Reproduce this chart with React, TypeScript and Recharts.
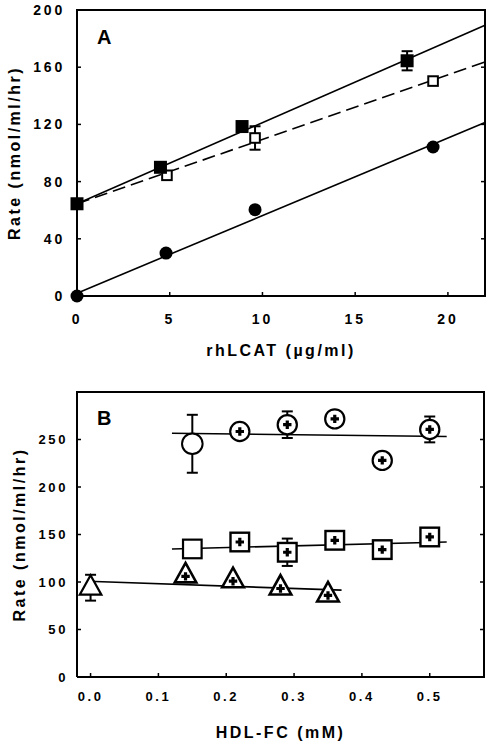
import React from 'react';
import { ComposedChart, XAxis, YAxis, Scatter, Line, ErrorBar } from 'recharts';

const FONT = '"Liberation Sans", Arial, Helvetica, sans-serif';

// ---------- Panel A data ----------
const aXDomain = [0, 22];
const aYDomain = [0, 200];
const aXTicks = [0, 5, 10, 15, 20];
const aYTicks = [0, 40, 80, 120, 160, 200];
const aFilledSquares = [
  { x: 0, y: 64.5 },
  { x: 4.5, y: 90 },
  { x: 8.9, y: 118.5 },
  { x: 17.8, y: 164.5, e: 6.7 },
];
const aOpenSquares = [
  { x: 0, y: 64.5 },
  { x: 4.85, y: 84.4 },
  { x: 9.6, y: 110.5, e: 8.2 },
  { x: 19.2, y: 150.3 },
];
const aFilledCircles = [
  { x: 0, y: 0 },
  { x: 4.8, y: 30 },
  { x: 9.6, y: 60.4 },
  { x: 19.2, y: 104.2 },
];
const aFitFilledSquares = [
  { x: 0, y: 64.5 },
  { x: 22, y: 189.3 },
];
const aFitOpenSquares = [
  { x: 0, y: 64.5 },
  { x: 22, y: 163.6 },
];
const aFitCircles = [
  { x: 0, y: 2 },
  { x: 22, y: 121.3 },
];

// ---------- Panel B data ----------
const bXDomain = [-0.02, 0.58];
const bYDomain = [0, 300];
const bXTicks = [0, 0.1, 0.2, 0.3, 0.4, 0.5];
const bYTicks = [0, 50, 100, 150, 200, 250];
const bCircleOpen = [{ x: 0.15, y: 245.5, e: 30.5 }];
const bCirclePlus = [
  { x: 0.22, y: 258.4 },
  { x: 0.29, y: 265.6, e: 14 },
  { x: 0.36, y: 271.7 },
  { x: 0.43, y: 228 },
  { x: 0.5, y: 260.6, e: 13.6 },
];
const bSquareOpen = [{ x: 0.15, y: 134.8 }];
const bSquarePlus = [
  { x: 0.22, y: 142.1 },
  { x: 0.29, y: 131.3, e: 14.4 },
  { x: 0.36, y: 143.9 },
  { x: 0.43, y: 134.1 },
  { x: 0.5, y: 147.4 },
];
const bTriangleOpen = [{ x: 0, y: 94, e: 13.6 }];
const bTrianglePlus = [
  { x: 0.14, y: 107 },
  { x: 0.21, y: 101.9 },
  { x: 0.28, y: 94.2 },
  { x: 0.35, y: 86.9 },
];
const bFitCircles = [
  { x: 0.12, y: 256.6 },
  { x: 0.525, y: 253.2 },
];
const bFitSquares = [
  { x: 0.12, y: 134.8 },
  { x: 0.525, y: 142.1 },
];
const bFitTriangles = [
  { x: -0.004, y: 100.8 },
  { x: 0.37, y: 91.4 },
];

// ---------- layout ----------
const W = 492;
const A_LAYOUT = { h: 380, top: 10, right: 7, yAxisW: 77, xAxisH: 84 };
const B_LAYOUT = { h: 369, top: 12, right: 8, yAxisW: 77, xAxisH: 72 };

// ---------- shapes ----------
const plusPath = (cx: number, cy: number) =>
  `M${cx - 1.6},${cy - 4.2}h3.2v2.6h2.6v3.2h-2.6v2.6h-3.2v-2.6h-2.6v-3.2h2.6z`;

const FilledSquare = (p: any) => (
  <rect x={p.cx - 6.5} y={p.cy - 6.5} width={13} height={13} fill="#000" />
);
const OpenSquareA = (p: any) => (
  <rect x={p.cx - 4.8} y={p.cy - 4.8} width={9.6} height={9.6} fill="#fff" stroke="#000" strokeWidth={2} />
);
const FilledCircle = (p: any) => <circle cx={p.cx} cy={p.cy} r={6.5} fill="#000" />;

const CircleOpenB = (p: any) => (
  <circle cx={p.cx} cy={p.cy} r={10.3} fill="#fff" stroke="#000" strokeWidth={2} />
);
const CirclePlusB = (p: any) => (
  <g>
    <circle cx={p.cx} cy={p.cy} r={9.6} fill="#fff" stroke="#000" strokeWidth={2.2} />
    <path d={plusPath(p.cx, p.cy)} fill="#000" />
  </g>
);
const SquareOpenB = (p: any) => (
  <rect x={p.cx - 9.3} y={p.cy - 9.3} width={18.6} height={18.6} fill="#fff" stroke="#000" strokeWidth={2.2} />
);
const SquarePlusB = (p: any) => (
  <g>
    <rect x={p.cx - 9.3} y={p.cy - 9.3} width={18.6} height={18.6} fill="#fff" stroke="#000" strokeWidth={2.4} />
    <path d={plusPath(p.cx, p.cy)} fill="#000" />
  </g>
);
const triPts = (cx: number, cy: number) =>
  `${cx},${cy - 12.5} ${cx + 10.8},${cy + 7} ${cx - 10.8},${cy + 7}`;
const TriangleOpenB = (p: any) => (
  <polygon points={triPts(p.cx, p.cy)} fill="#fff" stroke="#000" strokeWidth={2.2} strokeLinejoin="miter" />
);
const TrianglePlusB = (p: any) => (
  <g>
    <polygon points={triPts(p.cx, p.cy)} fill="#fff" stroke="#000" strokeWidth={2.6} strokeLinejoin="miter" />
    <path d={plusPath(p.cx, p.cy + 1)} fill="#000" />
  </g>
);

const tickA = { fill: '#000', fontSize: 14, fontWeight: 'bold', fontFamily: FONT, letterSpacing: 2.8 };
const tickB = { fill: '#000', fontSize: 13, fontWeight: 'bold', fontFamily: FONT, letterSpacing: 2.6 };
const labelStyle = {
  fill: '#000',
  fontSize: 16,
  fontWeight: 'bold',
  fontFamily: FONT,
  letterSpacing: 2.5,
  textAnchor: 'middle' as const,
};
const axisLine = { stroke: '#000', strokeWidth: 2 };
const tickLine = { stroke: '#000', strokeWidth: 1.5 };

// Top and right edges of the plot box, with inward ticks on the right edge
function FrameOverlay({ layout, yDomain, yTicks }: any) {
  const left = layout.yAxisW;
  const right = W - layout.right;
  const top = layout.top;
  const bottom = layout.h - layout.xAxisH;
  const yOf = (v: number) => top + (bottom - top) * (1 - (v - yDomain[0]) / (yDomain[1] - yDomain[0]));
  return (
    <svg
      width={W}
      height={layout.h}
      style={{ position: 'absolute', left: 0, top: 0, pointerEvents: 'none', overflow: 'visible' }}
    >
      <polyline
        points={`${left - 1},${top} ${right},${top} ${right},${bottom + 1}`}
        fill="none"
        stroke="#000"
        strokeWidth={2}
        strokeLinejoin="miter"
      />
      {yTicks.map((v: number) => (
        <line key={v} x1={right - 4} y1={yOf(v)} x2={right} y2={yOf(v)} stroke="#000" strokeWidth={1.5} />
      ))}
    </svg>
  );
}

function PanelA() {
  const L = A_LAYOUT;
  return (
    <div style={{ position: 'relative', width: W, height: L.h }}>
      <ComposedChart width={W} height={L.h} margin={{ top: L.top, right: L.right, bottom: 0, left: 0 }}>
        <XAxis
          dataKey="x"
          type="number"
          domain={aXDomain}
          ticks={aXTicks}
          height={L.xAxisH}
          axisLine={axisLine}
          tickLine={tickLine}
          tickSize={-4}
          tickMargin={22}
          tick={tickA}
          label={{ value: 'rhLCAT (µg/ml)', position: 'insideBottom', offset: 24, style: labelStyle }}
        />
        <YAxis
          type="number"
          domain={aYDomain}
          ticks={aYTicks}
          width={L.yAxisW}
          axisLine={axisLine}
          tickLine={tickLine}
          tickSize={-4}
          tickMargin={16}
          tick={tickA}
          label={{ value: 'Rate (nmol/ml/hr)', angle: -90, position: 'insideLeft', offset: 14, style: labelStyle }}
        />
        <Line data={aFitFilledSquares} dataKey="y" stroke="#000" strokeWidth={1.6} dot={false} activeDot={false} isAnimationActive={false} />
        <Line data={aFitOpenSquares} dataKey="y" stroke="#000" strokeWidth={1.6} strokeDasharray="13 6" dot={false} activeDot={false} isAnimationActive={false} />
        <Line data={aFitCircles} dataKey="y" stroke="#000" strokeWidth={1.6} dot={false} activeDot={false} isAnimationActive={false} />
        <Scatter data={aOpenSquares} dataKey="y" shape={OpenSquareA} isAnimationActive={false}>
          <ErrorBar dataKey="e" direction="y" width={5.5} stroke="#000" strokeWidth={2} />
        </Scatter>
        <Scatter data={aFilledSquares} dataKey="y" shape={FilledSquare} isAnimationActive={false}>
          <ErrorBar dataKey="e" direction="y" width={5.5} stroke="#000" strokeWidth={2} />
        </Scatter>
        <Scatter data={aFilledCircles} dataKey="y" shape={FilledCircle} isAnimationActive={false} />
        <text x={97} y={44} fontSize={20} fontWeight="bold" fontFamily={FONT} fill="#000">A</text>
      </ComposedChart>
      <FrameOverlay layout={L} yDomain={aYDomain} yTicks={aYTicks} />
    </div>
  );
}

function PanelB() {
  const L = B_LAYOUT;
  return (
    <div style={{ position: 'relative', width: W, height: L.h }}>
      <ComposedChart width={W} height={L.h} margin={{ top: L.top, right: L.right, bottom: 0, left: 0 }}>
        <XAxis
          dataKey="x"
          type="number"
          domain={bXDomain}
          ticks={bXTicks}
          height={L.xAxisH}
          axisLine={axisLine}
          tickLine={tickLine}
          tickSize={-4}
          tickMargin={19}
          tick={tickB}
          tickFormatter={(v: number) => v.toFixed(1)}
          label={{ value: 'HDL-FC (mM)', position: 'insideBottom', offset: 11, style: labelStyle }}
        />
        <YAxis
          type="number"
          domain={bYDomain}
          ticks={bYTicks}
          width={L.yAxisW}
          axisLine={axisLine}
          tickLine={tickLine}
          tickSize={-4}
          tickMargin={13}
          tick={tickB}
          label={{ value: 'Rate (nmol/ml/hr)', angle: -90, position: 'insideLeft', offset: 19, style: labelStyle }}
        />
        <Line data={bFitCircles} dataKey="y" stroke="#000" strokeWidth={1.6} dot={false} activeDot={false} isAnimationActive={false} />
        <Line data={bFitSquares} dataKey="y" stroke="#000" strokeWidth={1.6} dot={false} activeDot={false} isAnimationActive={false} />
        <Line data={bFitTriangles} dataKey="y" stroke="#000" strokeWidth={1.6} dot={false} activeDot={false} isAnimationActive={false} />
        <Scatter data={bCircleOpen} dataKey="y" shape={CircleOpenB} isAnimationActive={false}>
          <ErrorBar dataKey="e" direction="y" width={5.5} stroke="#000" strokeWidth={2} />
        </Scatter>
        <Scatter data={bCirclePlus} dataKey="y" shape={CirclePlusB} isAnimationActive={false}>
          <ErrorBar dataKey="e" direction="y" width={5.5} stroke="#000" strokeWidth={2} />
        </Scatter>
        <Scatter data={bSquareOpen} dataKey="y" shape={SquareOpenB} isAnimationActive={false} />
        <Scatter data={bSquarePlus} dataKey="y" shape={SquarePlusB} isAnimationActive={false}>
          <ErrorBar dataKey="e" direction="y" width={5.5} stroke="#000" strokeWidth={2} />
        </Scatter>
        <Scatter data={bTriangleOpen} dataKey="y" shape={TriangleOpenB} isAnimationActive={false}>
          <ErrorBar dataKey="e" direction="y" width={5.5} stroke="#000" strokeWidth={2} />
        </Scatter>
        <Scatter data={bTrianglePlus} dataKey="y" shape={TrianglePlusB} isAnimationActive={false} />
        <text x={97} y={45} fontSize={20} fontWeight="bold" fontFamily={FONT} fill="#000">B</text>
      </ComposedChart>
      <FrameOverlay layout={L} yDomain={bYDomain} yTicks={bYTicks} />
    </div>
  );
}

export default function App() {
  return (
    <div style={{ position: 'absolute', left: 0, top: 0, width: W, height: 749, background: '#fff' }}>
      <PanelA />
      <PanelB />
    </div>
  );
}
